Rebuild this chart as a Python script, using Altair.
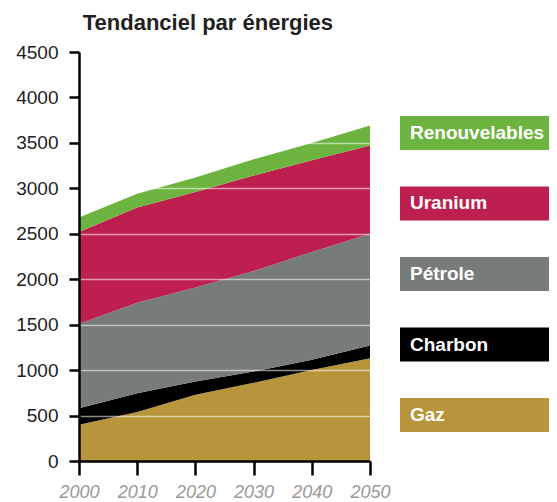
import altair as alt
import pandas as pd

years = [2000, 2010, 2020, 2030, 2040, 2050]
gaz = [400, 540, 730, 860, 1000, 1130]
charbon = [180, 205, 145, 125, 115, 140]
petrole = [930, 995, 1035, 1105, 1185, 1230]
uranium = [1010, 1050, 1050, 1050, 1010, 970]
renouvelables = [160, 150, 160, 180, 190, 220]

series = ["Gaz", "Charbon", "Pétrole", "Uranium", "Renouvelables"]
colors = ["#b8953a", "#000000", "#777c7a", "#bd1f4e", "#6db33f"]
legend_order = ["Renouvelables", "Uranium", "Pétrole", "Charbon", "Gaz"]
y_ticks = [0, 500, 1000, 1500, 2000, 2500, 3000, 3500, 4000, 4500]
x_ticks = [2000, 2010, 2020, 2030, 2040, 2050]

values = {"Gaz": gaz, "Charbon": charbon, "Pétrole": petrole,
          "Uranium": uranium, "Renouvelables": renouvelables}
rows = []
for i, s in enumerate(series):
    for y, v in zip(years, values[s]):
        rows.append({"annee": y, "energie": s, "valeur": v, "ordre": i})
df = pd.DataFrame(rows)

FONT = "Liberation Sans"
color_scale = alt.Scale(domain=series, range=colors)
H = 409

main = alt.Chart(df).mark_area(opacity=1).encode(
    x=alt.X("annee:Q", scale=alt.Scale(domain=[2000, 2050], nice=False, zero=False),
            axis=alt.Axis(values=x_ticks, format="d", title=None, grid=False,
                          domainColor="black", domainWidth=2.5, tickColor="black",
                          tickWidth=2.5, tickSize=14, labelPadding=8,
                          labelOverlap=False, labelFlush=False,
                          labelFontSize=18, labelFontStyle="italic", labelColor="#9a9a9a",
                          labelFont=FONT, zindex=2)),
    y=alt.Y("valeur:Q", stack="zero", scale=alt.Scale(domain=[0, 4500], nice=False),
            axis=alt.Axis(values=y_ticks, format="d", title=None, grid=True,
                          gridColor="white", gridOpacity=0.55, gridWidth=1.5,
                          domainColor="black", domainWidth=2.5, tickColor="black",
                          tickWidth=2.5, tickSize=10, labelPadding=11,
                          labelFontSize=19, labelColor="#222222", labelFont=FONT,
                          zindex=1)),
    color=alt.Color("energie:N", scale=color_scale, legend=None),
    order=alt.Order("ordre:Q", sort="ascending"),
).properties(width=291, height=H)

leg_df = pd.DataFrame({"energie": legend_order})
leg_scale = alt.Scale(range=[64, 380], paddingInner=0.518, paddingOuter=0)
leg_rect = alt.Chart(leg_df).mark_bar(cornerRadius=0).encode(
    y=alt.Y("energie:N", sort=legend_order, scale=leg_scale, axis=None),
    x=alt.value(0), x2=alt.value(149),
    color=alt.Color("energie:N", scale=color_scale, legend=None),
)
leg_text = alt.Chart(leg_df).mark_text(
    align="left", baseline="middle", fontSize=19, fontWeight="bold",
    font=FONT, color="white"
).encode(
    y=alt.Y("energie:N", sort=legend_order, scale=leg_scale, axis=None,
            bandPosition=0.5),
    x=alt.value(10),
    text="energie:N",
)
legend = alt.layer(leg_rect, leg_text).properties(width=149, height=H)

chart = alt.hconcat(main, legend, spacing=9).properties(
    title=alt.TitleParams("Tendanciel par énergies", anchor="start", dx=67,
                          fontSize=22, font=FONT, fontWeight="bold",
                          color="#222222", offset=8),
    padding={"left": 7, "top": 4, "right": 0, "bottom": 0},
).configure_view(stroke=None)

chart.save("out.html", embed_options={"renderer": "svg", "actions": False})
